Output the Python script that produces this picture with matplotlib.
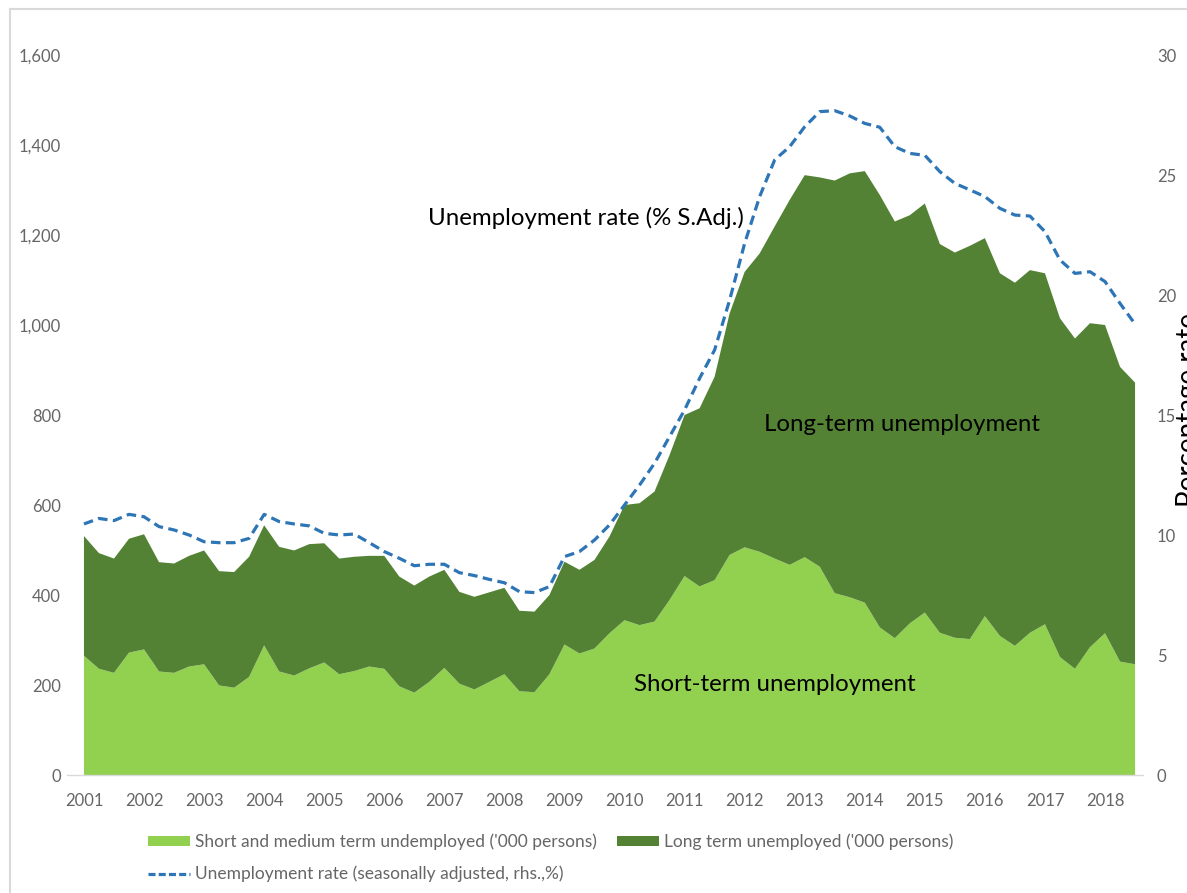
import numpy as np
import matplotlib
matplotlib.use("Agg")
import matplotlib.pyplot as plt
from matplotlib.patches import Patch
from matplotlib.lines import Line2D
from matplotlib.ticker import FuncFormatter

# Quarterly data, 2001Q1 .. 2018Q3
short_medium = [265, 236, 227, 272, 279, 230, 227, 241, 246, 199, 194, 218, 288, 230, 221, 237,
                250, 224, 231, 241, 236, 197, 183, 207, 238, 203, 190, 207, 224, 186, 184, 224,
                290, 270, 281, 315, 344, 333, 341, 389, 442, 419, 433, 489, 506, 496, 481, 467,
                484, 463, 404, 395, 383, 328, 304, 337, 361, 316, 305, 302, 353, 309, 287, 316,
                335, 262, 236, 284, 315, 252, 246]
long_term = [266, 257, 254, 253, 256, 243, 243, 246, 253, 254, 257, 267, 267, 277, 278, 276,
             265, 257, 254, 246, 251, 244, 238, 234, 218, 204, 206, 199, 192, 179, 179, 176,
             184, 186, 197, 215, 256, 271, 289, 322, 358, 396, 452, 537, 612, 663, 738, 811,
             849, 865, 917, 942, 959, 961, 926, 907, 909, 864, 856, 874, 840, 806, 807, 806,
             780, 753, 734, 720, 685, 655, 626]
unemp_rate = [10.46, 10.69, 10.60, 10.86, 10.76, 10.35, 10.21, 10.00, 9.72, 9.68, 9.68, 9.86,
              10.86, 10.56, 10.46, 10.38, 10.07, 10.00, 10.04, 9.68, 9.31, 9.03, 8.72, 8.78,
              8.78, 8.43, 8.31, 8.15, 8.01, 7.64, 7.60, 7.85, 9.10, 9.31, 9.79, 10.42, 11.25,
              12.08, 12.99, 14.10, 15.21, 16.53, 17.71, 19.79, 22.15, 24.10, 25.63, 26.18,
              27.01, 27.64, 27.68, 27.46, 27.15, 26.99, 26.18, 25.90, 25.82, 25.14, 24.65,
              24.38, 24.10, 23.61, 23.33, 23.29, 22.64, 21.46, 20.90, 20.97, 20.56, 19.65, 18.79]
year_labels = [str(y) for y in range(2001, 2019)]

legend_labels = ["Short and medium term undemployed ('000 persons)",
                 "Unemployment rate (seasonally adjusted, rhs.,%)",
                 "Long term unemployed ('000 persons)"]

LIGHT = "#92d050"
DARK = "#548235"
BLUE = "#2e75b6"
GRAY = "#666666"
FONT = "Lato"

W, H = 1187, 893
fig = plt.figure(figsize=(W / 100, H / 100), dpi=100)
fig.patch.set_facecolor("white")

ax = fig.add_axes([67 / W, (H - 775) / H, (1143 - 67) / W, (775 - 55) / H])
x = np.arange(len(short_medium))
ax.stackplot(x, short_medium, long_term, colors=[LIGHT, DARK], linewidth=0)
ax.set_xlim(-1.13, 70.53)
ax.set_ylim(0, 1600)
ax.set_yticks(range(0, 1601, 200))
ax.yaxis.set_major_formatter(FuncFormatter(lambda v, p: f"{int(v):,}"))
ax.set_xticks(np.arange(0, 4 * len(year_labels), 4))
ax.set_xticklabels(year_labels)
for s in ["top", "left", "right"]:
    ax.spines[s].set_visible(False)
ax.spines["bottom"].set_color("#d9d9d9")
ax.spines["bottom"].set_linewidth(1.0)
ax.tick_params(axis="both", length=0, labelcolor=GRAY, labelsize=12)
ax.tick_params(axis="x", pad=13)
ax.tick_params(axis="y", pad=4.5)
for lab in ax.get_xticklabels() + ax.get_yticklabels():
    lab.set_fontfamily(FONT)

ax2 = ax.twinx()
ax2.plot(x, unemp_rate, color=BLUE, lw=2.3, linestyle=(0, (3.0, 1.7)))
ax2.set_ylim(0, 30)
ax2.set_yticks(range(0, 31, 5))
for s in ["top", "left", "right", "bottom"]:
    ax2.spines[s].set_visible(False)
ax2.tick_params(axis="y", length=0, labelcolor=GRAY, labelsize=12, pad=10)
for lab in ax2.get_yticklabels():
    lab.set_fontfamily(FONT)

# Annotations (positions in left-axis units, converted to the right axis)
k = 30 / 1600
ax2.text(33.4, 1238 * k, "Unemployment rate (% S.Adj.)", fontsize=17.3,
         family=FONT, ha="center", va="center", color="black")
ax2.text(54.45, 778 * k, "Long-term unemployment", fontsize=17.3,
         family=FONT, ha="center", va="center", color="black")
ax2.text(46.0, 201 * k, "Short-term unemployment", fontsize=17.3,
         family=FONT, ha="center", va="center", color="black")

# right axis title (partly cut at image edge, as in the reference)
fig.text(1176 / W, (H - 410) / H, "Percentage rate", rotation=90, fontsize=20,
         family=FONT, ha="left", va="center", color="black")

# Legend
handles = [Patch(facecolor=LIGHT, edgecolor="none"),
           Line2D([0], [0], color=BLUE, lw=2.3, linestyle=(0, (2.2, 1.0))),
           Patch(facecolor=DARK, edgecolor="none")]
leg = fig.legend(handles, legend_labels, ncol=2, loc="upper left",
                 bbox_to_anchor=(148 / W, (H - 833.5) / H), frameon=False,
                 prop={"family": FONT, "size": 12.5}, labelcolor=GRAY,
                 handlelength=2.42, handleheight=0.53, handletextpad=0.29,
                 columnspacing=1.15, labelspacing=0.91, borderpad=0, borderaxespad=0)

# outer chart border (top and left visible)
fig.add_artist(Line2D([10 / W, 1.0], [1 - 9 / H, 1 - 9 / H], transform=fig.transFigure,
                      color="#d9d9d9", lw=1.5))
fig.add_artist(Line2D([10 / W, 10 / W], [0.0, 1 - 9 / H], transform=fig.transFigure,
                      color="#d9d9d9", lw=1.5))

fig.savefig("out.png", dpi=100)
